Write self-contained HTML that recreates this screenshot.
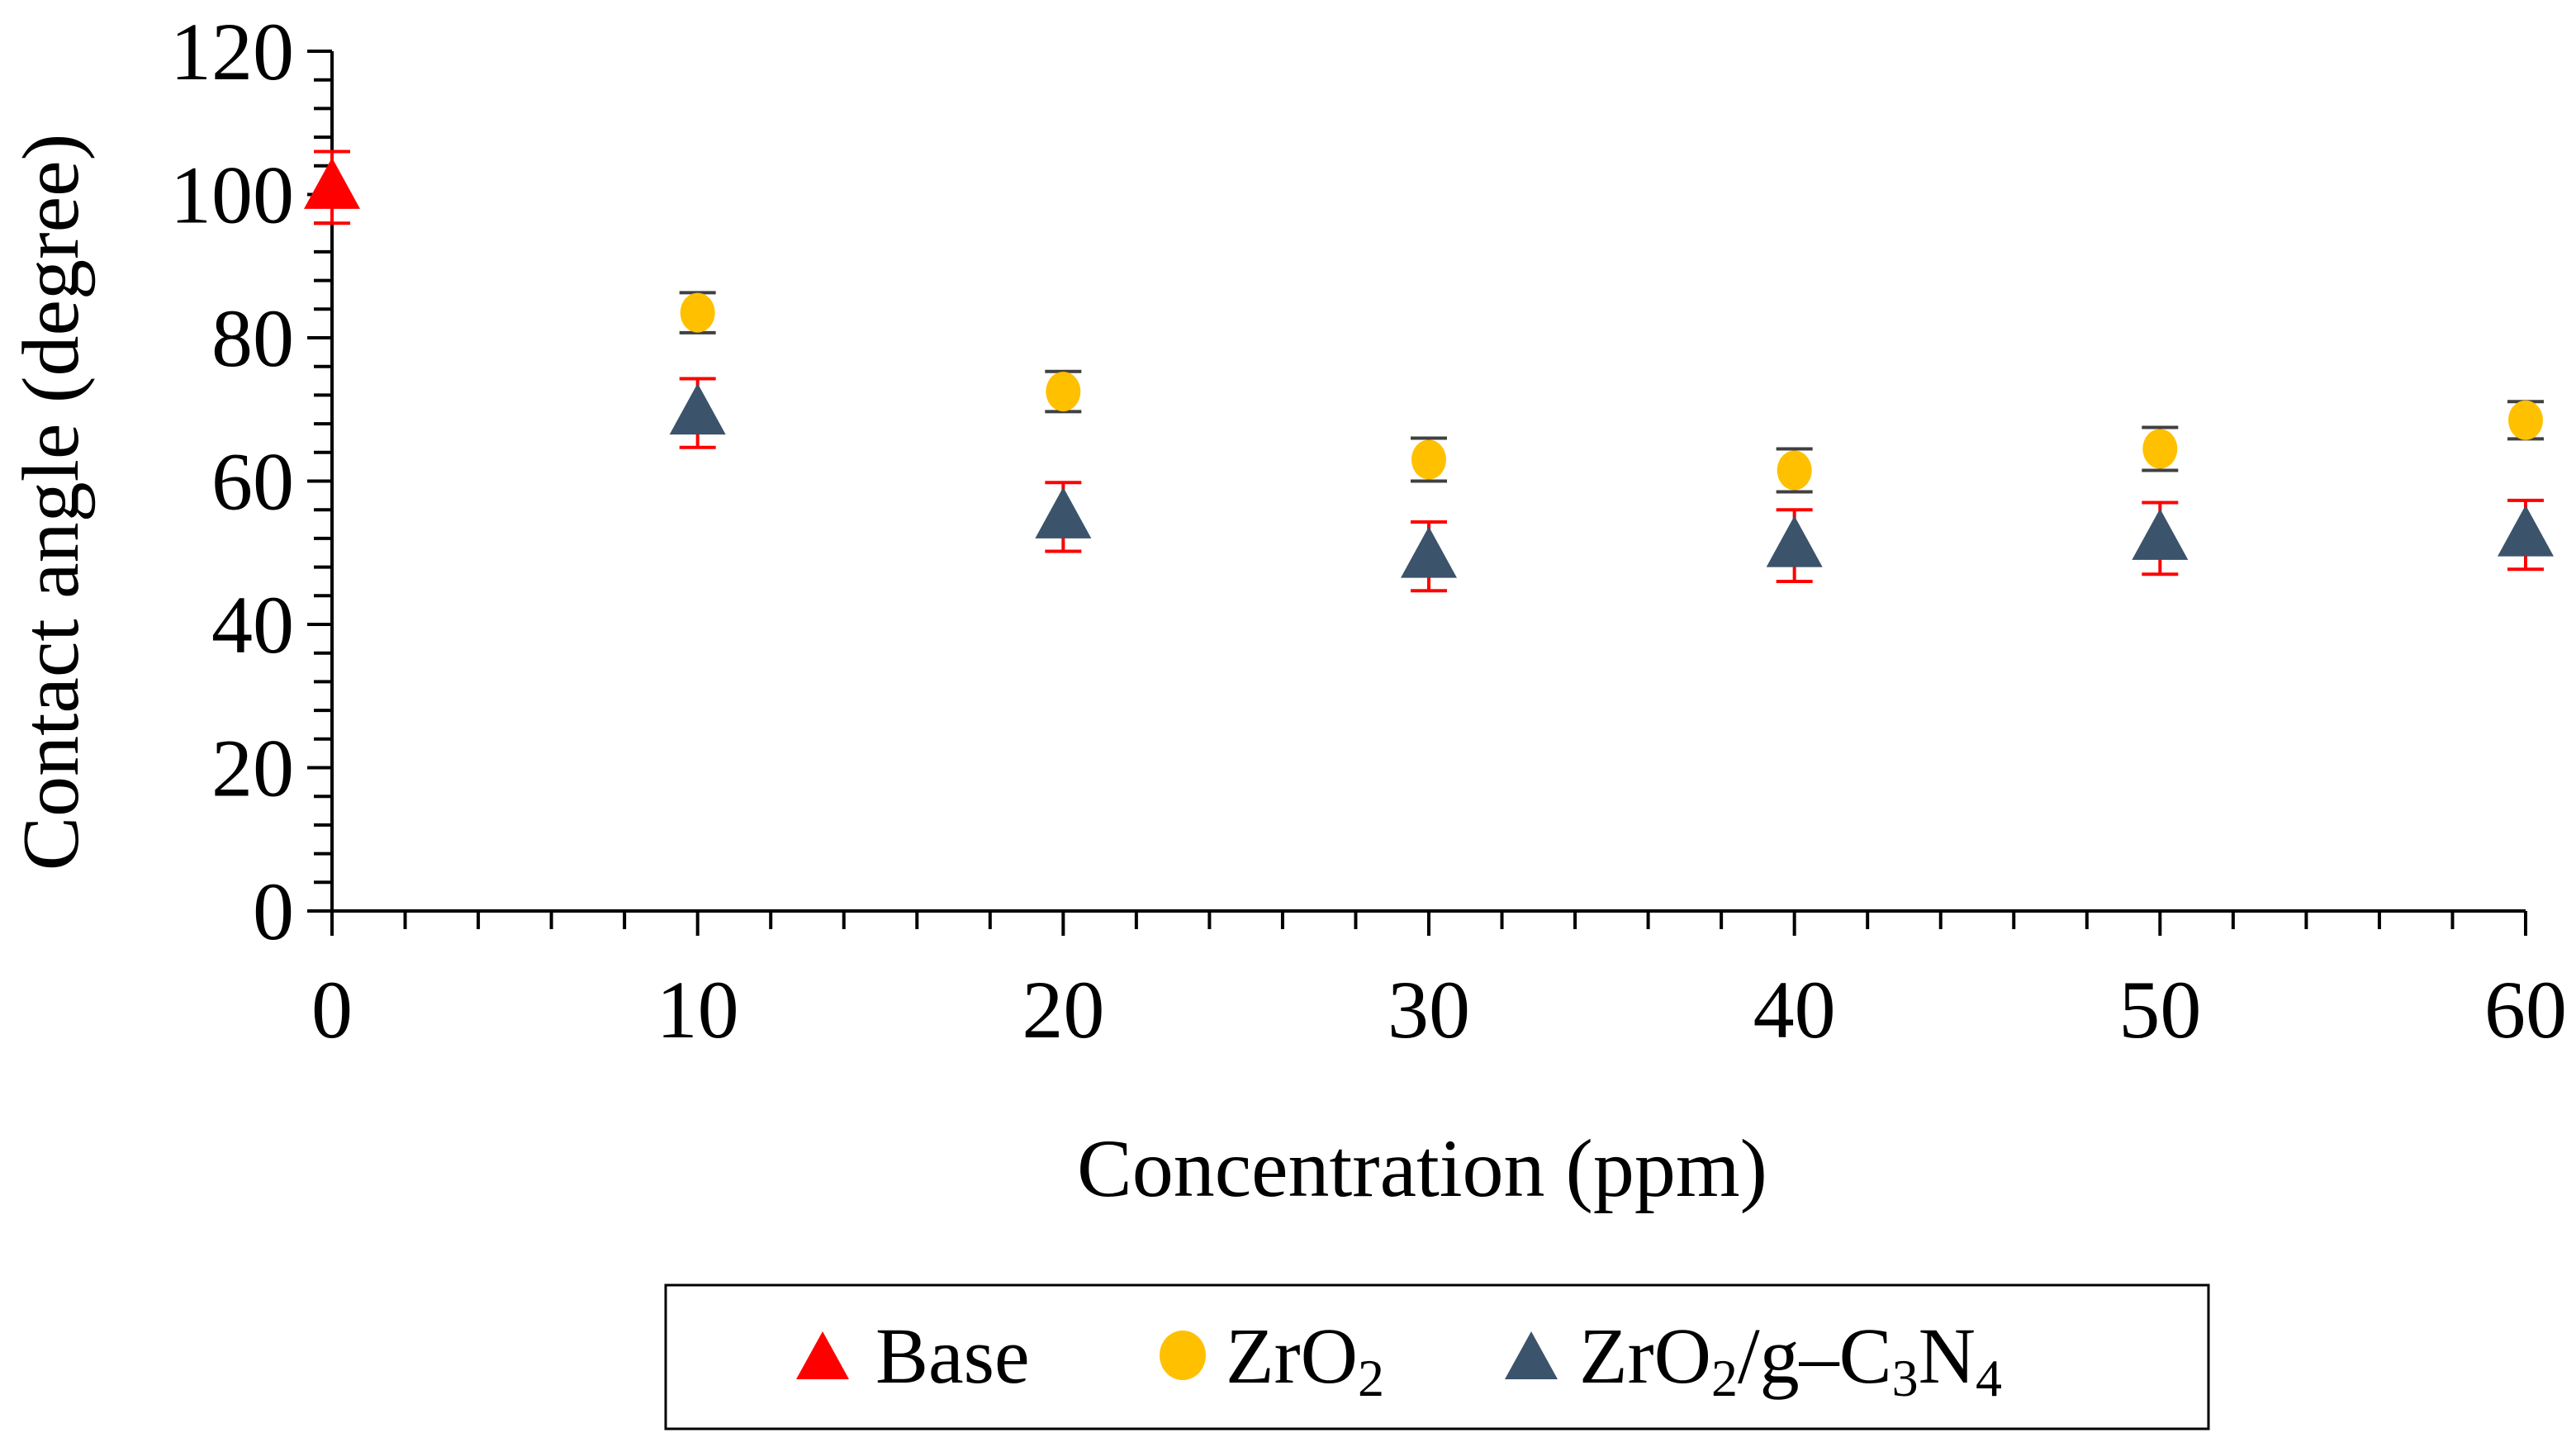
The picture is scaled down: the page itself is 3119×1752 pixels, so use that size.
<!DOCTYPE html>
<html><head><meta charset="utf-8"><style>
html,body{margin:0;padding:0;background:#fff;}
svg{display:block;font-family:"Liberation Serif",serif;}
</style></head><body>
<svg id="chart" width="3119" height="1752" viewBox="0 0 3119 1752" xmlns="http://www.w3.org/2000/svg">
<g id="axes"></g>
<g id="marks"></g>
<text x="1722" y="1448" font-size="100" text-anchor="middle">Concentration (ppm)</text>
<text transform="translate(94,608) rotate(-90)" font-size="98" text-anchor="middle">Contact angle (degree)</text>
<g>
<rect x="806" y="1556" width="1868" height="174" fill="#fff" stroke="#000" stroke-width="3"/>
<polygon points="996,1612 1028,1670 964,1670" fill="#ff0000"/>
<text x="1060" y="1674" font-size="96">Base</text>
<ellipse cx="1432" cy="1641" rx="28" ry="30" fill="#ffc000"/>
<text x="1484" y="1674" font-size="96">ZrO<tspan font-size="64" dy="16">2</tspan></text>
<polygon points="1854,1612 1886,1670 1822,1670" fill="#3b536b"/>
<text x="1912" y="1674" font-size="96">ZrO<tspan font-size="64" dy="16">2</tspan><tspan dy="-16">/g–C</tspan><tspan font-size="64" dy="16">3</tspan><tspan dy="-16">N</tspan><tspan font-size="64" dy="16">4</tspan></text>
</g>
</svg>
<script>
const xCats = [0, 10, 20, 30, 40, 50, 60];
const baseX = [0];
const baseY = [101];
const baseErr = [5];
const zrX = [10, 20, 30, 40, 50, 60];
const zrY = [83.5, 72.5, 63, 61.5, 64.5, 68.5];
const zrErr = [2.8, 2.8, 3, 3, 3, 2.6];
const gcX = [10, 20, 30, 40, 50, 60];
const gcY = [69.5, 55, 49.5, 51, 52, 52.5];
const gcErr = [4.8, 4.8, 4.8, 5, 5, 4.8];
const yTicks = [0, 20, 40, 60, 80, 100, 120];

const NS = "http://www.w3.org/2000/svg";
const X0 = 402, X1 = 3058, Y0 = 1103, Y1 = 62;
function sx(v){ return X0 + (v - 0) / 60 * (X1 - X0); }
function sy(v){ return Y0 - (v - 0) / 120 * (Y0 - Y1); }
function mk(tag, attrs, parent){ const e = document.createElementNS(NS, tag); for (const k in attrs) e.setAttribute(k, attrs[k]); parent.appendChild(e); return e; }
const axes = document.getElementById('axes');
const marks = document.getElementById('marks');

let l = mk('line', {x1: X0, y1: Y0, x2: X0, y2: Y1, stroke: '#000', 'stroke-width': 4}, axes);


l = mk('line', {x1: X0, y1: Y0, x2: X1, y2: Y0, stroke: '#000', 'stroke-width': 4}, axes);



for (let v = 0; v <= 120; v += 4) {
  const major = v % 20 === 0;
  const t = mk('line', {x1: X0 - (major ? 30 : 22), y1: sy(v), x2: X0, y2: sy(v), stroke: '#000', 'stroke-width': 4}, axes);
  
  
}
yTicks.forEach(v => {
  const t = mk('text', {x: X0 - 46, y: sy(v) + 34, 'font-size': 100, 'text-anchor': 'end'}, axes);
  t.textContent = v;
  
  
});
for (let v = 0; v <= 60; v += 2) {
  const major = v % 10 === 0;
  const t = mk('line', {x1: sx(v), y1: Y0, x2: sx(v), y2: Y0 + (major ? 30 : 22), stroke: '#000', 'stroke-width': 4}, axes);
  
  
}
xCats.forEach(v => {
  const t = mk('text', {x: sx(v), y: 1256, 'font-size': 100, 'text-anchor': 'middle'}, axes);
  t.textContent = v;
  
  
});

function errBar(x, y, e, color, name){
  const g = mk('g', {stroke: color, 'stroke-width': 4}, marks);
  
  
  mk('line', {x1: sx(x), y1: sy(y + e), x2: sx(x), y2: sy(y - e)}, g);
  mk('line', {x1: sx(x) - 22, y1: sy(y + e), x2: sx(x) + 22, y2: sy(y + e)}, g);
  mk('line', {x1: sx(x) - 22, y1: sy(y - e), x2: sx(x) + 22, y2: sy(y - e)}, g);
}
function tri(x, y, color, name){
  const cx = sx(x), cy = sy(y);
  const p = mk('polygon', {points: `${cx},${cy - 36} ${cx + 34},${cy + 26} ${cx - 34},${cy + 26}`, fill: color}, marks);
  
  
}
baseX.forEach((x, i) => { errBar(x, baseY[i], baseErr[i], '#ff0000', 'base-error-bar'); tri(x, baseY[i], '#ff0000', 'base-point'); });
zrX.forEach((x, i) => {
  errBar(x, zrY[i], zrErr[i], '#404040', 'zro2-error-bar');
  const c = mk('ellipse', {cx: sx(x), cy: sy(zrY[i]), rx: 21, ry: 24, fill: '#ffc000'}, marks);
  
  
});
gcX.forEach((x, i) => { errBar(x, gcY[i], gcErr[i], '#ff0000', 'composite-error-bar'); tri(x, gcY[i], '#3b536b', 'composite-point'); });
</script>
</body></html>
